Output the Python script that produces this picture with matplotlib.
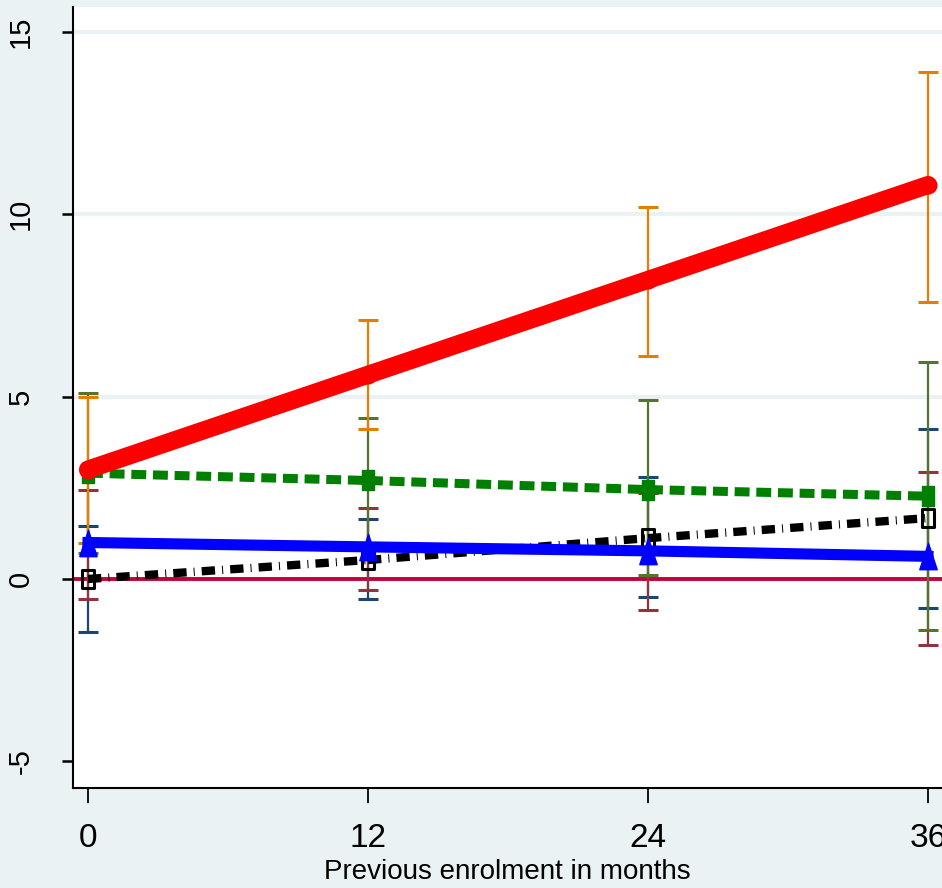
import matplotlib
matplotlib.use('Agg')
import matplotlib.pyplot as plt
from matplotlib.path import Path

# estimates and confidence limits
months = [0, 12, 24, 36]

red_est = [3.0, 5.6, 8.2, 10.8]
red_lo = [1.0, 4.1, 6.1, 7.6]
red_hi = [5.0, 7.1, 10.2, 13.9]

green_est = [2.9, 2.7, 2.45, 2.27]
green_lo = [0.7, 1.0, 0.1, -1.4]
green_hi = [5.1, 4.4, 4.9, 5.95]

blue_est = [1.0, 0.88, 0.77, 0.62]
blue_lo = [-0.55, -0.3, -0.85, -1.8]
blue_hi = [2.45, 1.95, 2.35, 2.93]

black_est = [0.0, 0.52, 1.12, 1.67]
black_lo = [-1.45, -0.55, -0.5, -0.8]
black_hi = [1.45, 1.65, 2.8, 4.12]

xticks = [0, 12, 24, 36]
yticks = [-5, 0, 5, 10, 15]

bg = '#EAF2F3'
navy = '#1A476F'
maroon = '#90353B'
forest = '#55752F'
dkorange = '#E37E00'

# stretched markers (reference is taller than wide)
rect = Path([(-0.62, -1), (0.62, -1), (0.62, 1), (-0.62, 1), (-0.62, -1)],
            [Path.MOVETO, Path.LINETO, Path.LINETO, Path.LINETO, Path.CLOSEPOLY])
tri = Path([(-0.66, -1), (0.66, -1), (0, 1), (-0.66, -1)],
           [Path.MOVETO, Path.LINETO, Path.LINETO, Path.CLOSEPOLY])

fig = plt.figure(figsize=(9.42, 8.88), dpi=100, facecolor=bg)
ax = fig.add_axes([72.5/942, 100/888, (942-72.5)/942, (788-7)/888])
ax.set_facecolor('white')
ax.set_xlim(-0.664, 36.6)
ax.set_ylim(-5.73, 15.68)

for v in [5, 10, 15]:
    ax.axhline(v, color=bg, lw=3, zorder=1)
ax.axhline(0, color='#C4003A', lw=2.8, zorder=2)

# confidence intervals
for lo, hi, c in [(black_lo, black_hi, navy), (blue_lo, blue_hi, maroon),
                  (green_lo, green_hi, forest), (red_lo, red_hi, dkorange)]:
    mid = [(a + b) / 2 for a, b in zip(lo, hi)]
    err = [[m - a for m, a in zip(mid, lo)], [b - m for m, b in zip(mid, hi)]]
    ax.errorbar(months, mid, yerr=err, fmt='none', ecolor=c, elinewidth=1.6,
                capsize=7.5, capthick=2.2, zorder=3)

# black dash-dot, hollow boxes
for i in range(3):
    ax.plot(months[i:i+2], black_est[i:i+2], color='black', lw=6,
            dashes=(1.6, 0.85, 0.12, 0.85), dash_capstyle='butt', zorder=4)
ax.plot(months, black_est, ls='none', marker=rect, ms=13.5, mfc='none',
        mec='black', mew=2.2, zorder=4)

# blue solid, triangles
ax.plot(months, blue_est, color='#0000FF', lw=8, marker=tri, ms=19,
        mec='#0000FF', zorder=5)

# green dashed, filled boxes
for i in range(3):
    ax.plot(months[i:i+2], green_est[i:i+2], color='#008000', lw=6.5,
            dashes=(1.65, 0.75), dash_capstyle='butt', zorder=6)
ax.plot(months, green_est, ls='none', marker=rect, ms=15, mfc='#008000',
        mec='#008000', zorder=6)

# red thick line
ax.plot(months, red_est, color='#FF0000', lw=13, marker='o', ms=13,
        mew=0, solid_capstyle='round', zorder=7)

for s in ['top', 'right']:
    ax.spines[s].set_visible(False)
for s in ['left', 'bottom']:
    ax.spines[s].set_linewidth(1.5)
    ax.spines[s].set_color('black')

ax.set_xticks(xticks)
ax.set_xticklabels([str(t) for t in xticks], family='Liberation Sans', fontsize=24)
ax.set_yticks(yticks)
ax.set_yticklabels([str(t) for t in yticks], family='Liberation Sans', fontsize=21,
                   rotation=90, va='center')
ax.tick_params(axis='x', length=11, width=1.3, pad=14)
ax.tick_params(axis='y', length=8, width=1.8, pad=19)
ax.set_xlabel('Previous enrolment in months', family='Liberation Sans',
              fontsize=20, labelpad=4)

fig.savefig('out.png', dpi=100, facecolor=bg)
